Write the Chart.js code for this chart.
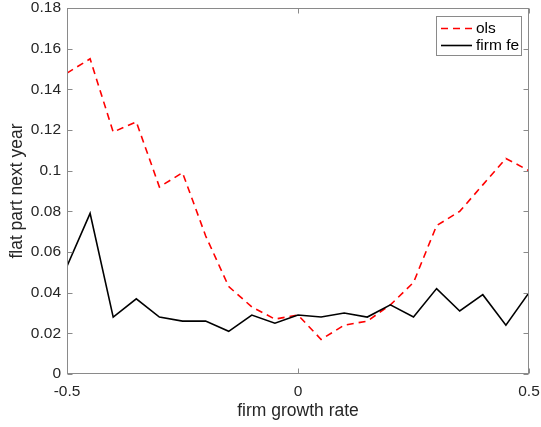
<!DOCTYPE html>
<html>
<head>
<meta charset="utf-8">
<script src="https://cdn.jsdelivr.net/npm/chart.js@4/dist/chart.umd.min.js"></script>
<style>
html,body{margin:0;padding:0;background:#fff;}
canvas{display:block;}
</style>
</head>
<body>
<canvas id="c" width="541" height="427"></canvas>
<script>
const growthRates = [-0.5,-0.45,-0.4,-0.35,-0.3,-0.25,-0.2,-0.15,-0.1,-0.05,0,0.05,0.1,0.15,0.2,0.25,0.3,0.35,0.4,0.45,0.5];
const olsValues = [0.148,0.155,0.119,0.124,0.092,0.099,0.068,0.043,0.033,0.027,0.029,0.017,0.024,0.026,0.034,0.045,0.073,0.080,0.093,0.106,0.100];
const firmFeValues = [0.053,0.079,0.028,0.037,0.028,0.026,0.026,0.021,0.029,0.025,0.029,0.028,0.030,0.028,0.034,0.028,0.042,0.031,0.039,0.024,0.040];
const xTicks = [-0.5, 0, 0.5];
const yTicks = [0,0.02,0.04,0.06,0.08,0.1,0.12,0.14,0.16,0.18];
const seriesLabels = ['ols','firm fe'];

const FONT = "'Liberation Sans', Arial, Helvetica, sans-serif";
const AXIS_COLOR = '#8a8a8a';
const TEXT_COLOR = '#262626';

function toPoints(xs, ys){ return xs.map((x,i)=>({x:x, y:ys[i]})); }

const boxTicksPlugin = {
  id: 'boxTicks',
  afterDatasetsDraw(chart){
    const {ctx, chartArea:a, scales:{x, y}} = chart;
    ctx.save();
    ctx.strokeStyle = AXIS_COLOR;
    ctx.lineWidth = 1;
    const L = Math.round(a.left)+0.5, R = Math.round(a.right)-0.5, T = Math.round(a.top)+0.5, B = Math.round(a.bottom)-0.5;
    ctx.strokeRect(L, T, R-L, B-T);
    const tl = 5;
    ctx.beginPath();
    xTicks.forEach(v=>{
      const px = Math.round(x.getPixelForValue(v))+0.5;
      ctx.moveTo(px, B); ctx.lineTo(px, B-tl);
      ctx.moveTo(px, T); ctx.lineTo(px, T+tl);
    });
    yTicks.forEach(v=>{
      const py = Math.round(y.getPixelForValue(v))+0.5;
      ctx.moveTo(L, py); ctx.lineTo(L+tl, py);
      ctx.moveTo(R, py); ctx.lineTo(R-tl, py);
    });
    ctx.stroke();
    ctx.restore();
  },
  afterDraw(chart){
    const ctx = chart.ctx;
    ctx.save();
    const bx = 436.5, by = 16.5, bw = 85, bh = 39;
    ctx.fillStyle = '#fff';
    ctx.fillRect(bx, by, bw, bh);
    ctx.strokeStyle = AXIS_COLOR;
    ctx.lineWidth = 1;
    ctx.strokeRect(bx, by, bw, bh);
    const rows = [28.5, 45.5];
    chart.data.datasets.forEach((ds, i)=>{
      const yy = rows[i];
      ctx.beginPath();
      ctx.strokeStyle = ds.borderColor;
      ctx.lineWidth = ds.borderWidth;
      ctx.setLineDash(ds.borderDash || []);
      ctx.moveTo(441, yy); ctx.lineTo(472, yy);
      ctx.stroke();
      ctx.setLineDash([]);
      ctx.fillStyle = '#000';
      ctx.font = '15.5px ' + FONT;
      ctx.textBaseline = 'middle';
      ctx.textAlign = 'left';
      ctx.fillText(ds.label, 476, yy);
    });
    ctx.restore();
  }
};

new Chart(document.getElementById('c'), {
  type: 'line',
  data: {
    datasets: [
      {label: seriesLabels[0], data: toPoints(growthRates, olsValues), borderColor: '#ff0000', borderWidth: 1.6, borderDash: [7,5], pointRadius: 0, fill: false, tension: 0, order: 2},
      {label: seriesLabels[1], data: toPoints(growthRates, firmFeValues), borderColor: '#000000', borderWidth: 1.6, pointRadius: 0, fill: false, tension: 0, order: 1}
    ]
  },
  options: {
    responsive: false,
    animation: false,
    devicePixelRatio: 1,
    layout: {padding: {left: 0, right: 0, top: 0, bottom: 0}},
    plugins: {legend: {display: false}, tooltip: {enabled: false}},
    scales: {
      x: {
        type: 'linear', min: -0.5, max: 0.5,
        grid: {display: false, drawTicks: false},
        border: {display: false},
        afterFit(s){ s.height = 53; s.paddingRight = 12; s.paddingLeft = 0; },
        afterBuildTicks(s){ s.ticks = xTicks.map(v=>({value:v})); },
        ticks: {padding: 8, color: TEXT_COLOR, font: {family: FONT, size: 15.5}, maxRotation: 0, autoSkip: false,
          callback: v => String(+Number(v).toFixed(2))},
        title: {display: true, text: 'firm growth rate', color: TEXT_COLOR, font: {family: FONT, size: 17.5}, padding: {top: 0, bottom: 5.5}}
      },
      y: {
        type: 'linear', min: 0, max: 0.18,
        grid: {display: false, drawTicks: false},
        border: {display: false},
        afterFit(s){ s.width = 67; s.paddingTop = 8; s.paddingBottom = 0; },
        afterBuildTicks(s){ s.ticks = yTicks.map(v=>({value:v})); },
        ticks: {padding: 6, color: TEXT_COLOR, font: {family: FONT, size: 15.5}, autoSkip: false,
          callback: v => String(+Number(v).toFixed(2))},
        title: {display: true, text: 'flat part next year', color: TEXT_COLOR, font: {family: FONT, size: 17.5}, padding: {top: 7, bottom: 0}}
      }
    }
  },
  plugins: [boxTicksPlugin]
});
</script>
</body>
</html>
